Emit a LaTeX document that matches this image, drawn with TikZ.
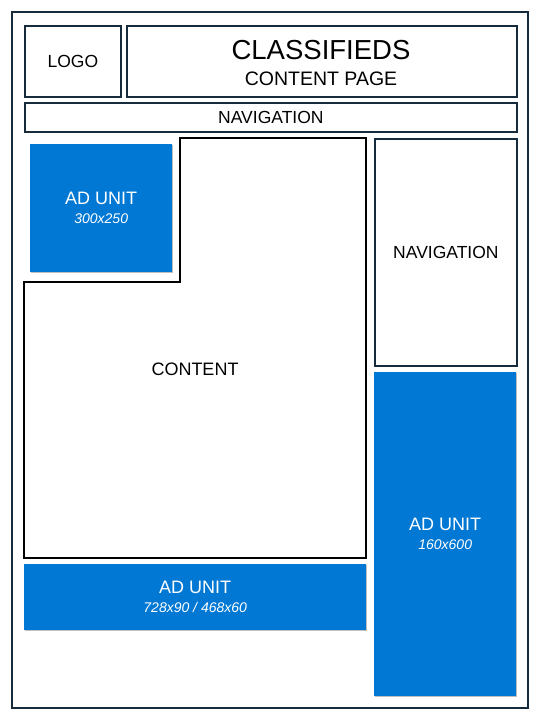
\documentclass[tikz,border=0pt]{standalone}
\usepackage{fontspec}
\setmainfont{Liberation Sans}
\usetikzlibrary{shadows}
\definecolor{frame}{RGB}{22,44,60}
\definecolor{adblue}{RGB}{0,120,212}
\newcommand\adsize{\fontsize{14}{16}\selectfont\itshape}

\begin{document}
\begin{tikzpicture}[x=1pt,y=-1pt,
  box/.style={draw=frame,line width=1.8pt,anchor=north west,inner sep=0pt,align=center,
    font=\fontsize{17.5}{20}\selectfont},
  adunit/.style={fill=adblue,anchor=north west,inner sep=0pt,align=center,text=white,
    font=\fontsize{18}{20}\selectfont,
    drop shadow={shadow xshift=0.6pt,shadow yshift=-1.2pt,opacity=0.25,fill=black}}]
\useasboundingbox (0,0) rectangle (540,720);
\draw [frame,line width=2pt] (12,12) rectangle (528,708) ;
% header
\node [box,minimum width=96pt,minimum height=71pt] (logo) at (24,25) {LOGO};
\node [box,minimum width=390pt,minimum height=71pt] (title) at (126,25) {};
\node [font=\fontsize{27.5}{30}\selectfont] (titletext) at (321,50) {CLASSIFIEDS};
\node [font=\fontsize{19.5}{22}\selectfont] (subtitle) at (321,79) {CONTENT PAGE};
\node [box,minimum width=492pt,minimum height=29pt] (topnav) at (24,102) {NAVIGATION};
% content
\draw [black,line width=2pt,line join=miter] (180,138) -- (366,138) -- (366,558) -- (24,558)
  -- (24,282) -- (180,282) -- cycle ;
\node [font=\fontsize{18}{20}\selectfont] (content) at (195,369) {CONTENT};
% side column
\node [box,minimum width=142pt,minimum height=227pt] (sidenav) at (374,138) {NAVIGATION};
% ad units
\node [adunit,minimum width=142pt,minimum height=128pt] (adbox) at (30,144)
  {AD UNIT\\[-1pt]{\adsize 300x250}};
\node [adunit,minimum width=142pt,minimum height=324pt] (adsky) at (374,372)
  {AD UNIT\\[-1pt]{\adsize 160x600}};
\node [adunit,minimum width=342pt,minimum height=66pt] (adbanner) at (24,564)
  {AD UNIT\\[-1pt]{\adsize 728x90 / 468x60}};
\end{tikzpicture}
\end{document}
